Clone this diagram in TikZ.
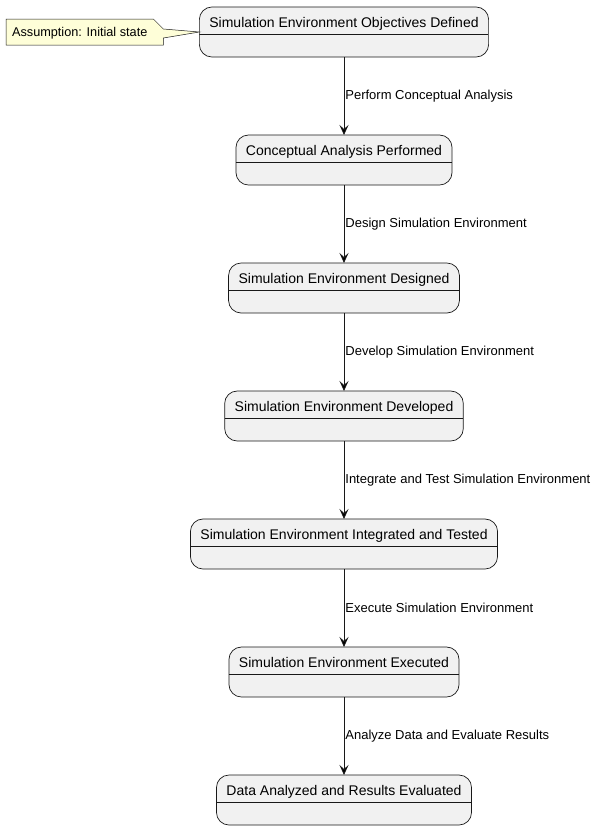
\documentclass[tikz,border=0pt]{standalone}
\usepackage{fontspec}
\setmainfont{Liberation Sans}
\usepackage{tikz}
\usetikzlibrary{matrix,arrows.meta,positioning}

\definecolor{statefill}{HTML}{F1F1F1}
\definecolor{lineclr}{HTML}{181818}
\definecolor{notefill}{HTML}{FEFED8}
\newcommand{\titlefont}{\fontsize{14}{16}\selectfont}
\newcommand{\edgefont}{\fontsize{13}{15}\selectfont}
\newcommand{\notefont}{\fontsize{12.7}{15}\selectfont}

\tikzset{
	state/.style={draw=lineclr, line width=0.7pt, fill=statefill, rounded corners=12.5pt,
		inner xsep=10pt, inner ysep=0pt, outer sep=0pt, text height=20pt, text depth=30pt, font=\titlefont,
		path picture={\draw[lineclr, line width=0.7pt] ([yshift=-27pt]path picture bounding box.north west)
			-- ([yshift=-27pt]path picture bounding box.north east);}},
	notetext/.style={inner sep=0pt, outer sep=0pt, text height=17pt, text depth=9pt, font=\notefont},
	trans/.style={right, inner xsep=1pt, font=\edgefont}
}

\begin{document}
\begin{tikzpicture}[x=1pt, y=1pt, >={Stealth[length=10pt,width=9pt,inset=4pt]}]
\useasboundingbox (0,0) rectangle (598,-830);
\matrix (m) [matrix of nodes, row sep=77.3pt, nodes={state}] at (344,-416)
{
	Simulation Environment Objectives Defined \\
	Conceptual Analysis Performed \\
	Simulation Environment Designed \\
	Simulation Environment Developed \\
	Simulation Environment Integrated and Tested \\
	Simulation Environment Executed \\
	Data Analyzed and Results Evaluated \\
};
% note on the first state
\node[notetext, left=52pt of m-1-1] (n) {Assumption: Initial state};
\draw[lineclr, line width=0.5pt, fill=notefill]
	([xshift=-6pt]n.north west) -- ([xshift=6pt]n.north east)
	-- ([xshift=16pt,yshift=-10pt]n.north east) -- (m-1-1.west)
	-- ([xshift=16pt,yshift=-19pt]n.north east) -- ([xshift=16pt]n.south east)
	-- ([xshift=-6pt]n.south west) -- cycle;
\node[notetext] at (n) {Assumption: Initial state};
\path[->, draw=lineclr, line width=0.8pt]
(m-1-1) edge node [trans] {Perform Conceptual Analysis} (m-2-1)
(m-2-1) edge node [trans] {Design Simulation Environment} (m-3-1)
(m-3-1) edge node [trans] {Develop Simulation Environment} (m-4-1)
(m-4-1) edge node [trans] {Integrate and Test Simulation Environment} (m-5-1)
(m-5-1) edge node [trans] {Execute Simulation Environment} (m-6-1)
(m-6-1) edge node [trans] {Analyze Data and Evaluate Results} (m-7-1)
;
\end{tikzpicture}
\end{document}
